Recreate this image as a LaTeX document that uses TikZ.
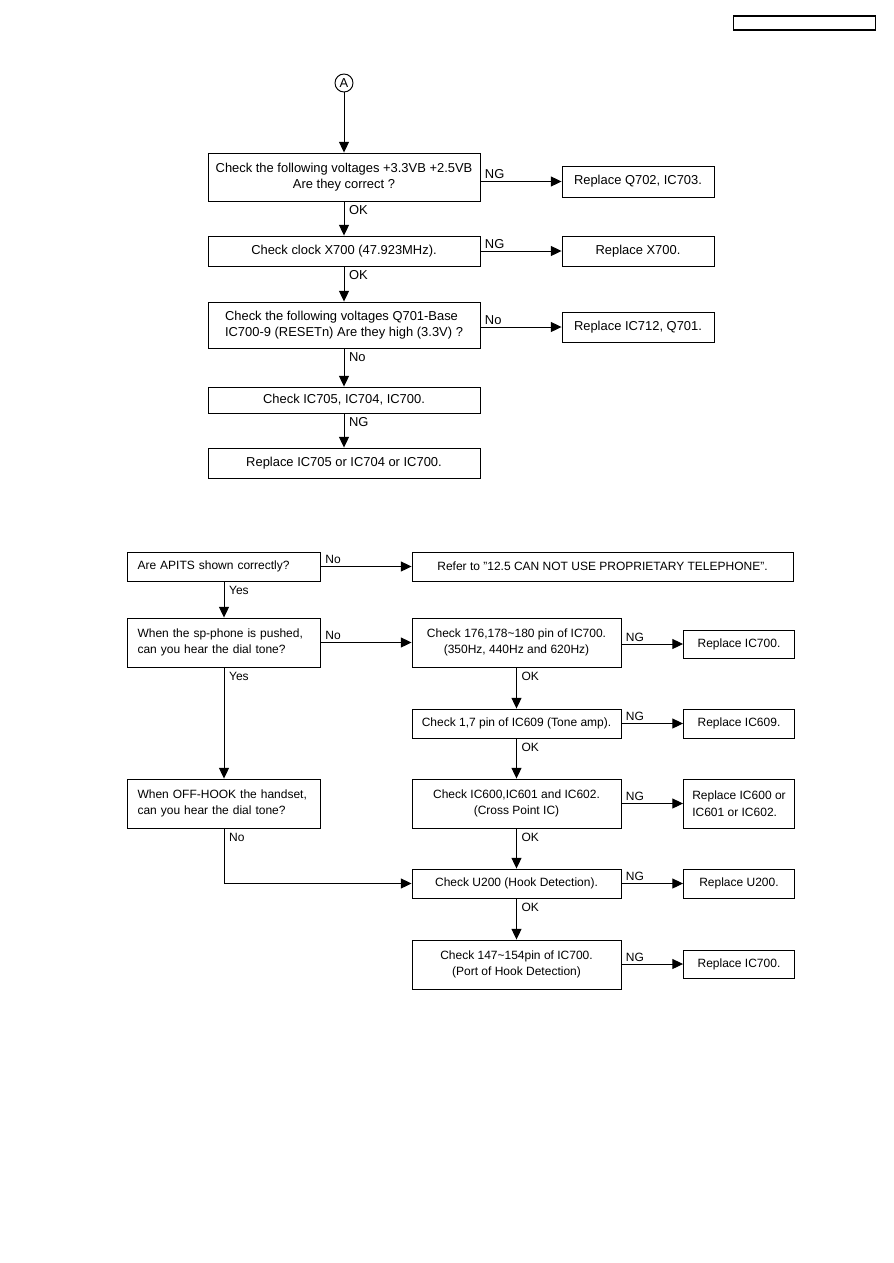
\documentclass[tikz,border=0pt]{standalone}
\usepackage{fontspec}
\setmainfont{Liberation Sans}
\usetikzlibrary{arrows.meta, positioning}

\begin{document}
\begin{tikzpicture}[x=0.75pt, y=-0.75pt, font=\fontsize{9.7pt}{11.8pt}\selectfont]
    % Define styles
    \tikzstyle{stepbox} = [rectangle, draw=black, line width=0.7pt, align=center, inner sep=2pt]
    \tikzstyle{fixbox} = [rectangle, draw=black, line width=0.7pt, align=left, inner xsep=4pt, minimum width=83.25pt]
    \tikzstyle{askbox} = [rectangle, draw=black, line width=0.7pt, align=left, text width=129.75pt, inner xsep=7.5pt]
    \tikzstyle{arrow} = [-{Triangle[length=8pt, width=7.5pt]}, line width=0.7pt]
    \tikzstyle{sidetag} = [pos=0, anchor=south west, inner sep=1pt, xshift=2pt, yshift=0.5pt]
    \tikzstyle{downtag} = [pos=0, anchor=north west, inner sep=1pt, xshift=2.5pt, yshift=-2pt]

    \useasboundingbox (0,0) rectangle (893,1263);
    \node[draw=black, line width=0.9pt, minimum width=107pt, minimum height=10.5pt, inner sep=0pt] (hdr) at (804.5,23) {};

    % Power and clock checks
    \node[circle, draw=black, line width=0.7pt, minimum size=13.5pt, inner sep=0pt] (conA) at (344,83) {A};
    \node[stepbox, minimum width=204pt, minimum height=36pt] (b1) at (344,177) {Check the following voltages +3.3VB +2.5VB\\Are they correct ?};
    \node[stepbox, minimum width=114pt, minimum height=23.25pt] (r1) at (638,181.5) {Replace Q702, IC703.};
    \node[stepbox, minimum width=204pt, minimum height=22.5pt] (b2) at (344,251) {Check clock X700 (47.923MHz).};
    \node[stepbox, minimum width=114pt, minimum height=22.5pt] (r2) at (638,251) {Replace X700.};
    \node[stepbox, align=left, minimum width=204pt, minimum height=34.5pt] (b3) at (344,325) {Check the following voltages Q701-Base\\IC700-9 (RESETn) Are they high (3.3V) ?};
    \node[stepbox, minimum width=114pt, minimum height=22.5pt] (r3) at (638,327) {Replace IC712, Q701.};
    \node[stepbox, minimum width=204pt, minimum height=19.5pt] (b4) at (344,400) {Check IC705, IC704, IC700.};
    \node[stepbox, minimum width=204pt, minimum height=22.5pt] (b5) at (344,463) {Replace IC705 or IC704 or IC700.};

    \draw[arrow] (conA) -- (b1);
    \draw[arrow] (b1.east |- r1.west) -- node[sidetag] {NG} (r1.west);
    \draw[arrow] (b1) -- node[downtag] {OK} (b2);
    \draw[arrow] (b2) -- node[sidetag] {NG} (r2);
    \draw[arrow] (b2) -- node[downtag] {OK} (b3);
    \draw[arrow] (b3.east |- r3.west) -- node[sidetag] {No} (r3.west);
    \draw[arrow] (b3) -- node[downtag] {No} (b4);
    \draw[arrow] (b4) -- node[downtag] {NG} (b5);

    % Dial tone checks
    \begin{scope}[font=\fontsize{9pt}{12.5pt}\selectfont]
    \node[askbox, minimum height=21.75pt] (q1) at (224,566.5) {Are APITS shown correctly?};
    \node[stepbox, minimum width=285.75pt, minimum height=21.75pt] (s1) at (602.5,566.5) {Refer to "12.5 CAN NOT USE PROPRIETARY TELEPHONE".};
    \node[askbox, minimum height=36.75pt] (q2) at (224,642.5) {When the sp-phone is pushed,\\can you hear the dial tone?};
    \node[askbox, minimum height=36.75pt] (q3) at (224,803.5) {When OFF-HOOK the handset,\\can you hear the dial tone?};

    \node[stepbox, minimum width=156.75pt, minimum height=36.75pt] (c1) at (516.5,642.5) {Check 176,178\textasciitilde180 pin of IC700.\\(350Hz, 440Hz and 620Hz)};
    \node[stepbox, minimum width=156.75pt, minimum height=21.75pt] (c2) at (516.5,723.5) {Check 1,7 pin of IC609 (Tone amp).};
    \node[stepbox, minimum width=156.75pt, minimum height=36.75pt] (c3) at (516.5,803.5) {Check IC600,IC601 and IC602.\\(Cross Point IC)};
    \node[stepbox, minimum width=156.75pt, minimum height=21.75pt] (c4) at (516.5,883.5) {Check U200 (Hook Detection).};
    \node[stepbox, minimum width=156.75pt, minimum height=36.75pt] (c5) at (516.5,964.5) {Check 147\textasciitilde154pin of IC700.\\(Port of Hook Detection)};

    \node[fixbox, minimum height=21pt] (f1) at (739,644) {Replace IC700.};
    \node[fixbox, minimum height=21.75pt] (f2) at (739,723.5) {Replace IC609.};
    \node[fixbox, minimum height=36.75pt] (f3) at (739,803.5) {Replace IC600 or\\IC601 or IC602.};
    \node[fixbox, minimum height=21.75pt] (f4) at (739,883.5) {Replace U200.};
    \node[fixbox, minimum height=21pt] (f5) at (739,964) {Replace IC700.};

    \draw[arrow] (q1) -- node[sidetag] {No} (s1);
    \draw[arrow] (q1) -- node[downtag] {Yes} (q2);
    \draw[arrow] (q2) -- node[sidetag] {No} (c1);
    \draw[arrow] (q2) -- node[downtag] {Yes} (q3);
    \draw[arrow] (q3.south) |- node[downtag] {No} (c4.west);
    \draw[arrow] (c1.east |- f1.west) -- node[sidetag] {NG} (f1.west);
    \draw[arrow] (c1) -- node[downtag] {OK} (c2);
    \draw[arrow] (c2) -- node[sidetag] {NG} (f2);
    \draw[arrow] (c2) -- node[downtag] {OK} (c3);
    \draw[arrow] (c3) -- node[sidetag] {NG} (f3);
    \draw[arrow] (c3) -- node[downtag] {OK} (c4);
    \draw[arrow] (c4) -- node[sidetag] {NG} (f4);
    \draw[arrow] (c4) -- node[downtag] {OK} (c5);
    \draw[arrow] (c5.east |- f5.west) -- node[sidetag] {NG} (f5.west);
    \end{scope}
\end{tikzpicture}
\end{document}
